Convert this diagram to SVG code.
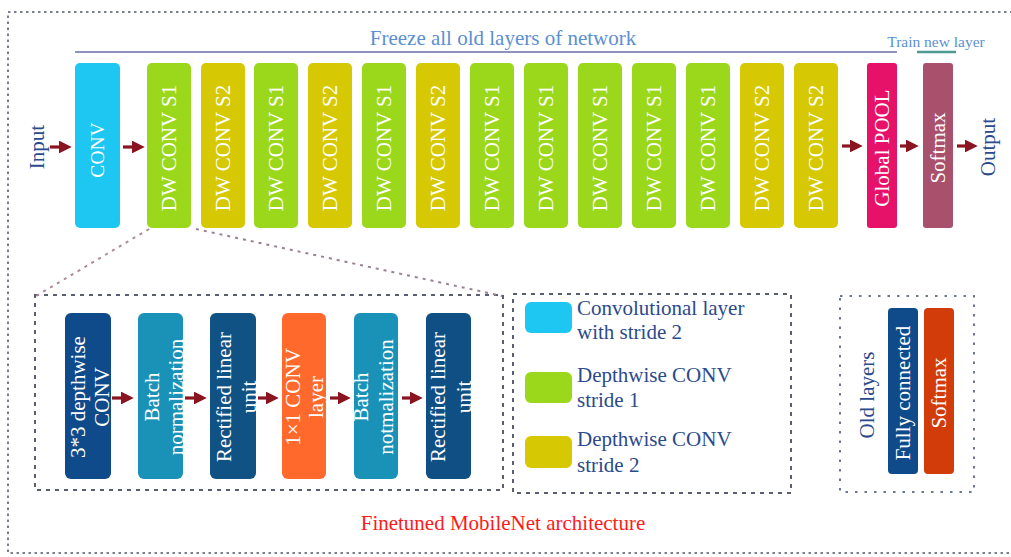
<svg xmlns="http://www.w3.org/2000/svg" width="1011" height="557" viewBox="0 0 1011 557">
<defs>
<marker id="ah" markerWidth="4" markerHeight="4" refX="2.2" refY="2" orient="auto" markerUnits="strokeWidth">
<path d="M0,0 L4,2 L0,4 Z" fill="#8a1420"/>
</marker>
<style>
.t{font-family:"Liberation Serif","Times New Roman",serif;}
.w{fill:#ffffff;font-size:21px;}
.b{fill:#2b4a8c;font-size:21px;}
.arr{stroke:#8a1420;stroke-width:3.2;fill:none;marker-end:url(#ah);}
.dw1{fill:#9bd81c;}
.dw2{fill:#d6c904;}
.dash{fill:none;stroke:#5a5e72;stroke-width:2;stroke-dasharray:4 5;}
</style>
</defs>
<rect x="0" y="0" width="1011" height="557" fill="#ffffff"/>
<rect x="8" y="12" width="1010" height="541" fill="none" stroke="#7a8090" stroke-width="2" stroke-dasharray="2.5 3.5"/>

<g id="header">
<line x1="75" y1="52" x2="897" y2="52" stroke="#8c94bc" stroke-width="2"/>
<text class="t" x="503" y="45" text-anchor="middle" font-size="21" fill="#5b8fd2">Freeze all old layers of network</text>
<line x1="917" y1="52" x2="956" y2="52" stroke="#4e9a92" stroke-width="2.5"/>
<text class="t" x="936" y="47" text-anchor="middle" font-size="15.5" fill="#5b8fd2">Train new layer</text>
</g>

<g id="input"><text class="t b" transform="translate(37,147) rotate(-90)" text-anchor="middle" dominant-baseline="central">Input</text></g>
<g id="output"><text class="t b" transform="translate(988,147) rotate(-90)" text-anchor="middle" dominant-baseline="central">Output</text></g>

<g id="conv"><rect x="75" y="63" width="45" height="165" rx="5" fill="#1ec6f2"/><text class="t w" style="font-size:19.5px" transform="translate(97.5,150) rotate(-90)" text-anchor="middle" dominant-baseline="central">CONV</text></g>

<g id="dw1"><rect class="dw1" x="147" y="63" width="44" height="165" rx="5"/><text class="t w" transform="translate(169,148) rotate(-90)" text-anchor="middle" dominant-baseline="central">DW CONV S1</text></g>
<g id="dw2"><rect class="dw2" x="201" y="63" width="44" height="165" rx="5"/><text class="t w" transform="translate(223,148) rotate(-90)" text-anchor="middle" dominant-baseline="central">DW CONV S2</text></g>
<g id="dw3"><rect class="dw1" x="254" y="63" width="44" height="165" rx="5"/><text class="t w" transform="translate(276,148) rotate(-90)" text-anchor="middle" dominant-baseline="central">DW CONV S1</text></g>
<g id="dw4"><rect class="dw2" x="308" y="63" width="44" height="165" rx="5"/><text class="t w" transform="translate(330,148) rotate(-90)" text-anchor="middle" dominant-baseline="central">DW CONV S2</text></g>
<g id="dw5"><rect class="dw1" x="362" y="63" width="44" height="165" rx="5"/><text class="t w" transform="translate(384,148) rotate(-90)" text-anchor="middle" dominant-baseline="central">DW CONV S1</text></g>
<g id="dw6"><rect class="dw2" x="416" y="63" width="44" height="165" rx="5"/><text class="t w" transform="translate(438,148) rotate(-90)" text-anchor="middle" dominant-baseline="central">DW CONV S2</text></g>
<g id="dw7"><rect class="dw1" x="470" y="63" width="44" height="165" rx="5"/><text class="t w" transform="translate(492,148) rotate(-90)" text-anchor="middle" dominant-baseline="central">DW CONV S1</text></g>
<g id="dw8"><rect class="dw1" x="524" y="63" width="44" height="165" rx="5"/><text class="t w" transform="translate(546,148) rotate(-90)" text-anchor="middle" dominant-baseline="central">DW CONV S1</text></g>
<g id="dw9"><rect class="dw1" x="578" y="63" width="44" height="165" rx="5"/><text class="t w" transform="translate(600,148) rotate(-90)" text-anchor="middle" dominant-baseline="central">DW CONV S1</text></g>
<g id="dw10"><rect class="dw1" x="632" y="63" width="44" height="165" rx="5"/><text class="t w" transform="translate(654,148) rotate(-90)" text-anchor="middle" dominant-baseline="central">DW CONV S1</text></g>
<g id="dw11"><rect class="dw1" x="686" y="63" width="44" height="165" rx="5"/><text class="t w" transform="translate(708,148) rotate(-90)" text-anchor="middle" dominant-baseline="central">DW CONV S1</text></g>
<g id="dw12"><rect class="dw2" x="740" y="63" width="44" height="165" rx="5"/><text class="t w" transform="translate(762,148) rotate(-90)" text-anchor="middle" dominant-baseline="central">DW CONV S2</text></g>
<g id="dw13"><rect class="dw2" x="794" y="63" width="44" height="165" rx="5"/><text class="t w" transform="translate(816,148) rotate(-90)" text-anchor="middle" dominant-baseline="central">DW CONV S2</text></g>

<g id="gpool"><rect x="867" y="63" width="30" height="165" rx="3" fill="#e6126a"/><text class="t w" transform="translate(882,148) rotate(-90)" text-anchor="middle" dominant-baseline="central">Global POOL</text></g>
<g id="softmax-top"><rect x="923" y="63" width="30" height="165" rx="3" fill="#a8506c"/><text class="t w" transform="translate(938,148) rotate(-90)" text-anchor="middle" dominant-baseline="central">Softmax</text></g>

<g id="detail-box"><rect class="dash" x="35" y="295" width="468" height="195"/></g>

<g id="b1"><rect x="65" y="313" width="46" height="166" rx="6" fill="#0f4a8a"/>
<text class="t w" transform="translate(78,397) rotate(-90)" text-anchor="middle" dominant-baseline="central">3*3 depthwise</text>
<text class="t w" transform="translate(102,397) rotate(-90)" text-anchor="middle" dominant-baseline="central">CONV</text></g>
<g id="b2"><rect x="138" y="313" width="45" height="166" rx="6" fill="#1a92b8"/>
<text class="t w" transform="translate(152,397) rotate(-90)" text-anchor="middle" dominant-baseline="central">Batch</text>
<text class="t w" transform="translate(176,397) rotate(-90)" text-anchor="middle" dominant-baseline="central">normalization</text></g>
<g id="b3"><rect x="210" y="313" width="46" height="166" rx="6" fill="#0f5283"/>
<text class="t w" transform="translate(224,397) rotate(-90)" text-anchor="middle" dominant-baseline="central">Rectified linear</text>
<text class="t w" transform="translate(249,397) rotate(-90)" text-anchor="middle" dominant-baseline="central">unit</text></g>
<g id="b4"><rect x="282" y="313" width="44" height="166" rx="6" fill="#ff6a2c"/>
<text class="t w" transform="translate(293,397) rotate(-90)" text-anchor="middle" dominant-baseline="central">1×1 CONV</text>
<text class="t w" transform="translate(316,397) rotate(-90)" text-anchor="middle" dominant-baseline="central">layer</text></g>
<g id="b5"><rect x="354" y="313" width="44" height="166" rx="6" fill="#1a92b8"/>
<text class="t w" transform="translate(361,397) rotate(-90)" text-anchor="middle" dominant-baseline="central">Batch</text>
<text class="t w" transform="translate(386,397) rotate(-90)" text-anchor="middle" dominant-baseline="central">notmalization</text></g>
<g id="b6"><rect x="426" y="313" width="45" height="166" rx="6" fill="#0f4f84"/>
<text class="t w" transform="translate(438,397) rotate(-90)" text-anchor="middle" dominant-baseline="central">Rectified linear</text>
<text class="t w" transform="translate(464,397) rotate(-90)" text-anchor="middle" dominant-baseline="central">unit</text></g>

<g id="legend"><rect class="dash" x="513" y="294" width="278" height="199"/>
<rect x="525" y="302" width="47" height="31" rx="6" fill="#1ec6f2"/>
<rect class="dw1" x="525" y="372" width="47" height="31" rx="6"/>
<rect class="dw2" x="525" y="436" width="47" height="32" rx="6"/>
<text class="t b" x="577" y="315">Convolutional layer</text>
<text class="t b" x="577" y="339">with stride 2</text>
<text class="t b" x="577" y="382">Depthwise CONV</text>
<text class="t b" x="577" y="407">stride 1</text>
<text class="t b" x="577" y="446">Depthwise CONV</text>
<text class="t b" x="577" y="472">stride 2</text></g>

<g id="old-layers"><rect x="840" y="296" width="134" height="196" fill="none" stroke="#6a7890" stroke-width="2" stroke-dasharray="2.5 7"/>
<text class="t b" transform="translate(867,395) rotate(-90)" text-anchor="middle" dominant-baseline="central">Old layers</text>
<rect x="888" y="308" width="30" height="166" rx="4" fill="#0f4a8a"/>
<text class="t w" transform="translate(903,393) rotate(-90)" text-anchor="middle" dominant-baseline="central">Fully connected</text>
<rect x="924" y="308" width="30" height="166" rx="4" fill="#d23c0a"/>
<text class="t w" transform="translate(939,393) rotate(-90)" text-anchor="middle" dominant-baseline="central">Softmax</text></g>

<g id="caption"><text class="t" x="503" y="530" text-anchor="middle" font-size="21" fill="#ff1a1a">Finetuned MobileNet architecture</text></g>

<g id="connectors">
<line class="arr" x1="50" y1="147" x2="66" y2="147"/>
<line class="arr" x1="123" y1="147" x2="139" y2="147"/>
<line class="arr" x1="842" y1="146" x2="857" y2="146"/>
<line class="arr" x1="900" y1="146" x2="913" y2="146"/>
<line class="arr" x1="957" y1="146" x2="972" y2="146"/>
<line class="arr" x1="112" y1="398" x2="128" y2="398"/>
<line class="arr" x1="185" y1="398" x2="201" y2="398"/>
<line class="arr" x1="258" y1="398" x2="273" y2="398"/>
<line class="arr" x1="330" y1="398" x2="345" y2="398"/>
<line class="arr" x1="402" y1="398" x2="417" y2="398"/>
<line x1="149" y1="229" x2="36" y2="296" stroke="#b08898" stroke-width="2" stroke-dasharray="3 5"/>
<line x1="196" y1="229" x2="502" y2="296" stroke="#9a8094" stroke-width="2" stroke-dasharray="3 5"/>
</g>
</svg>
